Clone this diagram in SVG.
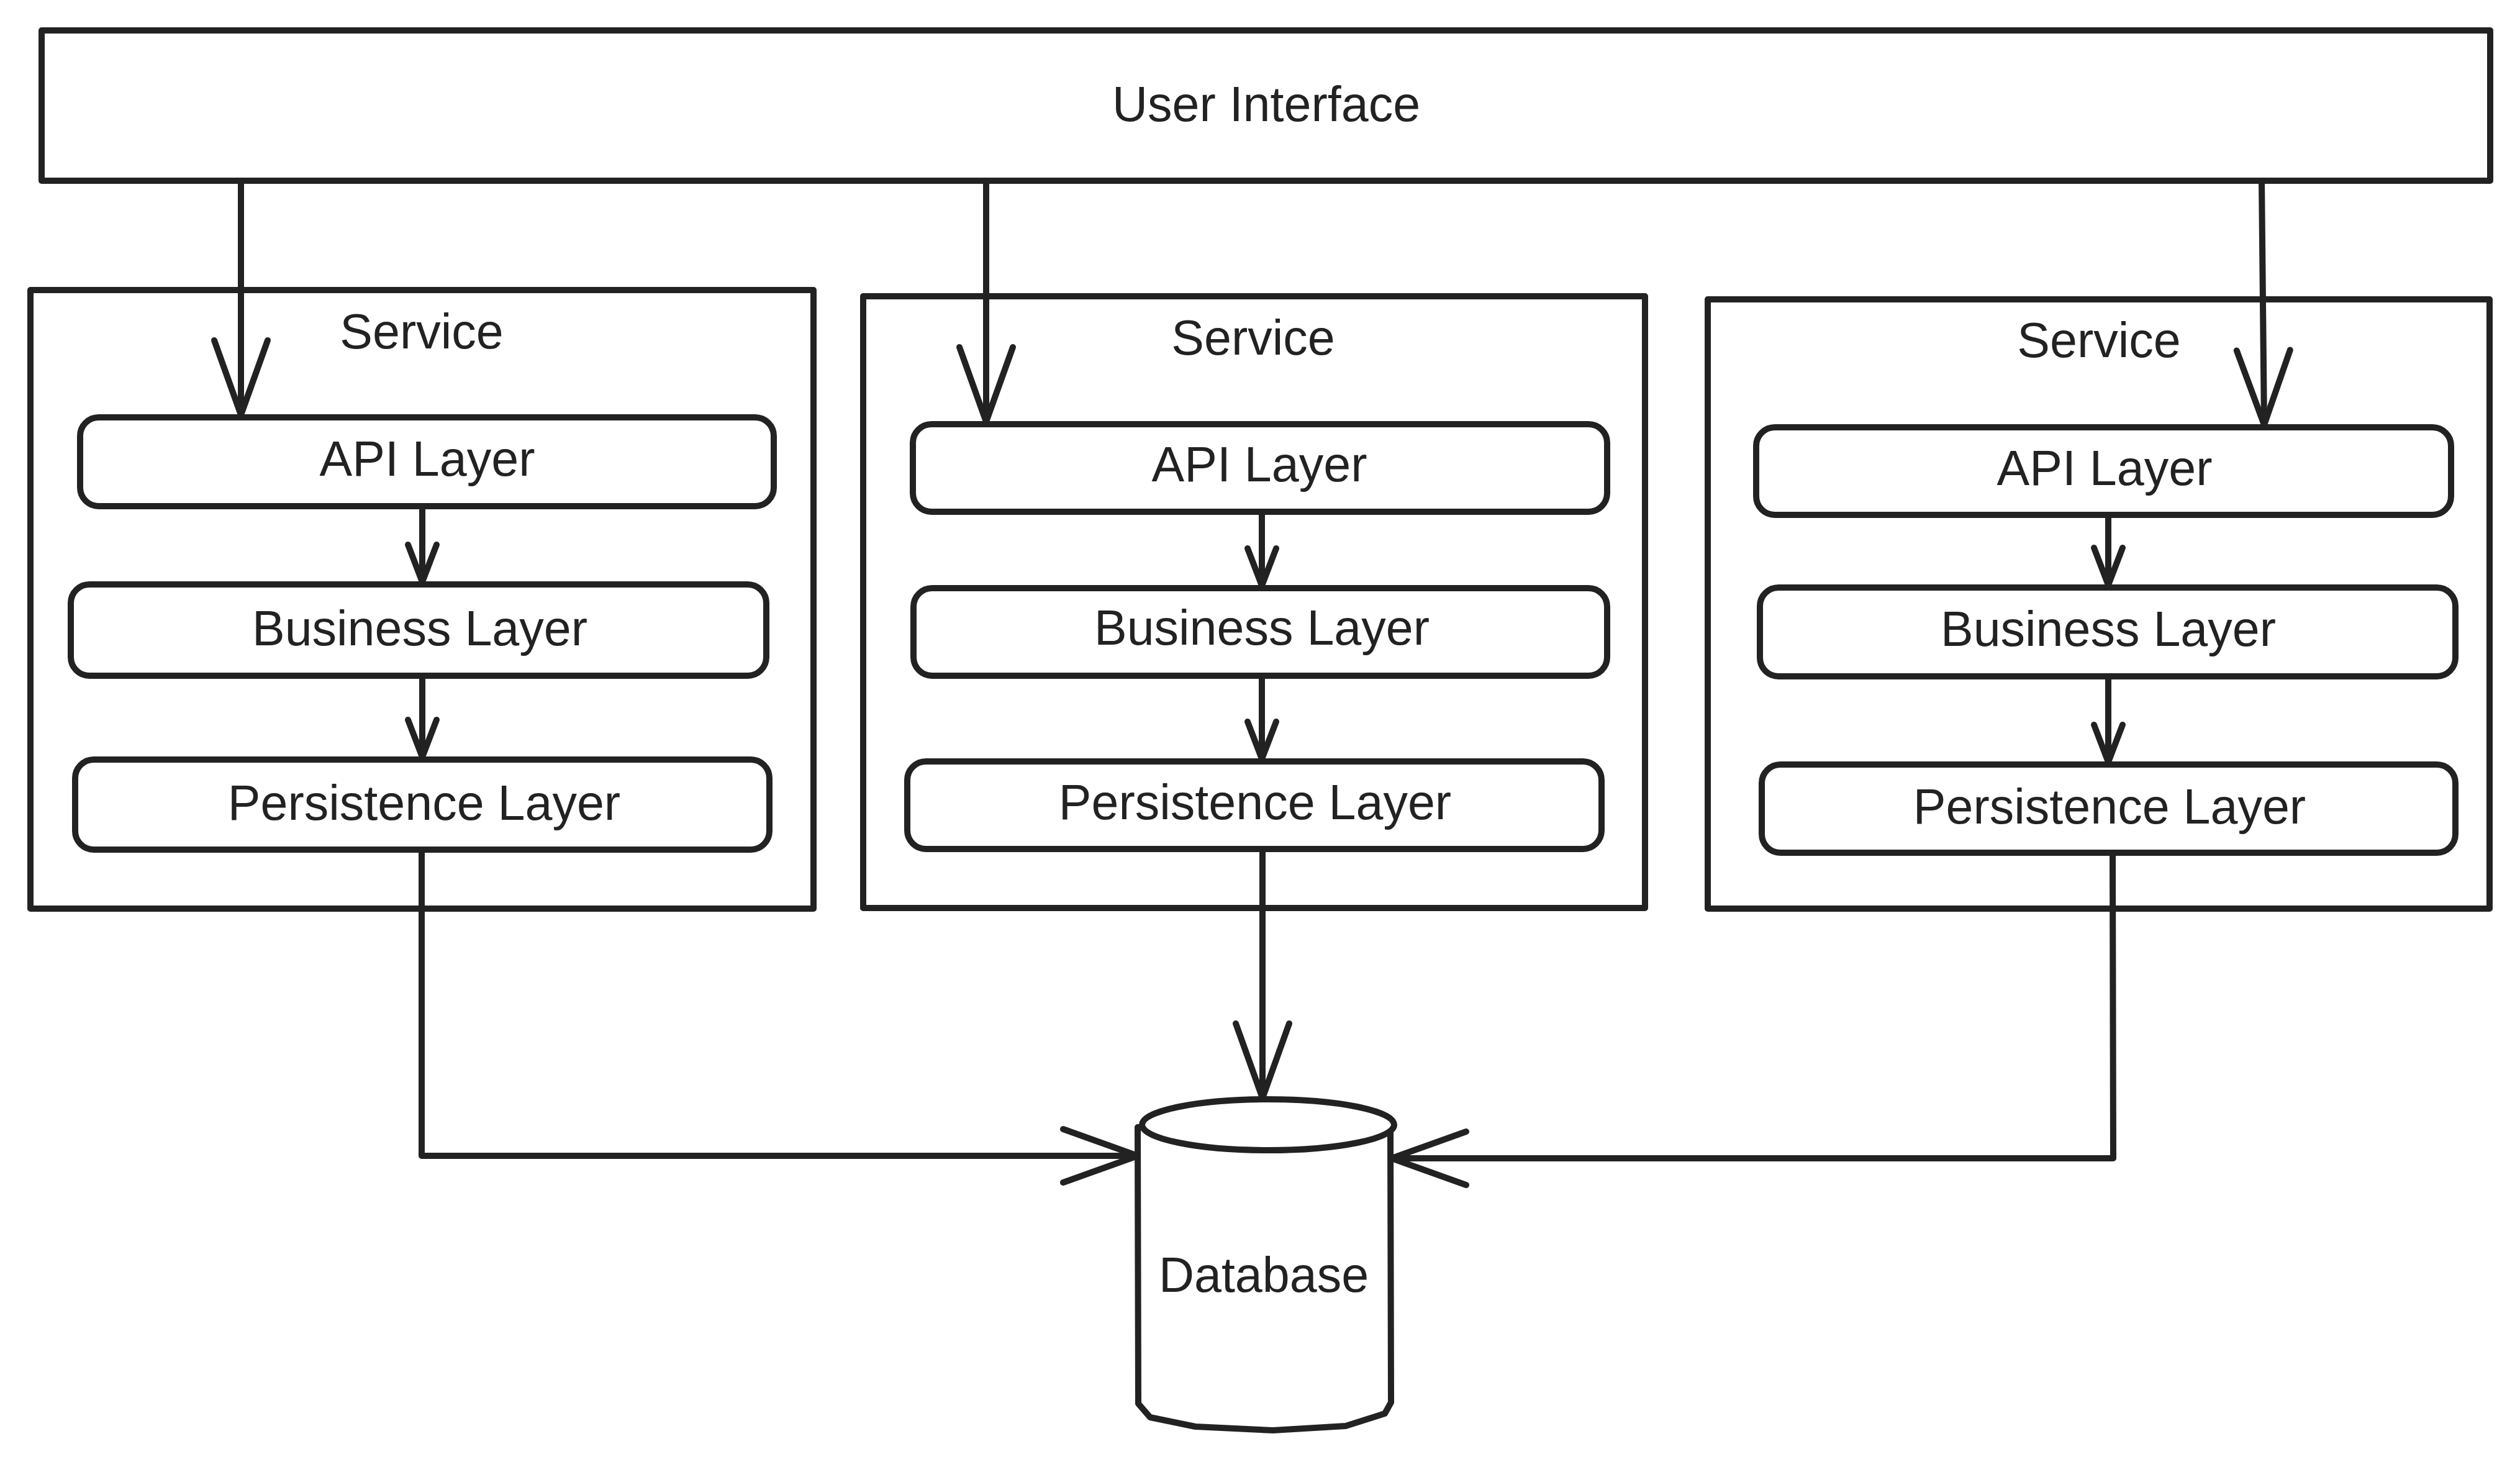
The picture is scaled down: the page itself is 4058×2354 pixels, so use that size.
<svg xmlns="http://www.w3.org/2000/svg" width="4058" height="2354" viewBox="0 0 4058 2354">
  <style>
    .box { fill: #ffffff; stroke: #222222; stroke-width: 10; stroke-linejoin: round; }
    .layer { fill: #ffffff; stroke: #222222; stroke-width: 10; }
    .label { font-family: "Liberation Sans", Arial, sans-serif; font-size: 79px; fill: #222222; text-anchor: middle; }
    .wire { fill: none; stroke: #222222; stroke-width: 10; stroke-linejoin: round; }
  </style>
  <defs>
    <marker id="headBig" markerUnits="userSpaceOnUse" orient="auto" overflow="visible" markerWidth="1" markerHeight="1" refX="0" refY="0">
      <path d="M-120,-43 L0,0 L-120,43" fill="none" stroke="#222222" stroke-width="10" stroke-linecap="round" stroke-linejoin="round"/>
    </marker>
    <marker id="headSmall" markerUnits="userSpaceOnUse" orient="auto" overflow="visible" markerWidth="1" markerHeight="1" refX="0" refY="0">
      <path d="M-60,-23 L0,0 L-60,23" fill="none" stroke="#222222" stroke-width="10" stroke-linecap="round" stroke-linejoin="round"/>
    </marker>
  </defs>

  <rect width="4058" height="2354" fill="#ffffff"/>

  <!-- top tier -->
  <g id="user-interface">
    <rect class="box" x="67" y="49" width="3943" height="242"/>
    <text class="label" x="2039" y="195">User Interface</text>
  </g>

  <!-- service 1 -->
  <g id="service-1">
    <rect class="box" x="49" y="467" width="1261" height="996"/>
    <text class="label" x="679" y="561">Service</text>
  </g>
  <g id="service-1-api">
    <rect class="layer" x="129" y="672" width="1117" height="143" rx="30"/>
    <text class="label" x="688" y="766">API Layer</text>
  </g>
  <g id="service-1-business">
    <rect class="layer" x="114" y="941" width="1120" height="147" rx="30"/>
    <text class="label" x="676" y="1039">Business Layer</text>
  </g>
  <g id="service-1-persistence">
    <rect class="layer" x="121" y="1223" width="1118" height="145" rx="30"/>
    <text class="label" x="683" y="1320">Persistence Layer</text>
  </g>

  <!-- service 2 -->
  <g id="service-2">
    <rect class="box" x="1390" y="477" width="1259" height="985"/>
    <text class="label" x="2018" y="571">Service</text>
  </g>
  <g id="service-2-api">
    <rect class="layer" x="1470" y="683" width="1118" height="141" rx="30"/>
    <text class="label" x="2028" y="775">API Layer</text>
  </g>
  <g id="service-2-business">
    <rect class="layer" x="1471" y="947" width="1117" height="141" rx="30"/>
    <text class="label" x="2032" y="1038">Business Layer</text>
  </g>
  <g id="service-2-persistence">
    <rect class="layer" x="1461" y="1226" width="1118" height="141" rx="30"/>
    <text class="label" x="2021" y="1319">Persistence Layer</text>
  </g>

  <!-- service 3 -->
  <g id="service-3">
    <rect class="box" x="2750" y="482" width="1259" height="981"/>
    <text class="label" x="3380" y="575">Service</text>
  </g>
  <g id="service-3-api">
    <rect class="layer" x="2828" y="688" width="1119" height="141" rx="30"/>
    <text class="label" x="3389" y="781">API Layer</text>
  </g>
  <g id="service-3-business">
    <rect class="layer" x="2834" y="946" width="1120" height="143" rx="30"/>
    <text class="label" x="3395" y="1040">Business Layer</text>
  </g>
  <g id="service-3-persistence">
    <rect class="layer" x="2837" y="1231" width="1117" height="142" rx="30"/>
    <text class="label" x="3397" y="1326">Persistence Layer</text>
  </g>

  <!-- shared store -->
  <g id="database">
    <path class="box" d="M1832,1815 L1833,2260 L1852,2282 L1925,2297 L2050,2303 L2167,2296 L2230,2276 L2240,2258 L2239,1822 Z"/>
    <ellipse class="box" cx="2042" cy="1811" rx="203" ry="41"/>
    <text class="label" x="2035" y="2080">Database</text>
  </g>

  <!-- connectors -->
  <g id="connectors">
    <path class="wire" d="M388,291 L388,668" marker-end="url(#headBig)"/>
    <path class="wire" d="M1588,291 L1588,679" marker-end="url(#headBig)"/>
    <path class="wire" d="M3642,291 L3646,684" marker-end="url(#headBig)"/>

    <path class="wire" d="M680,815 L680,937" marker-end="url(#headSmall)"/>
    <path class="wire" d="M680,1088 L680,1219" marker-end="url(#headSmall)"/>
    <path class="wire" d="M2032,824 L2032,943" marker-end="url(#headSmall)"/>
    <path class="wire" d="M2032,1088 L2032,1222" marker-end="url(#headSmall)"/>
    <path class="wire" d="M3395,829 L3395,942" marker-end="url(#headSmall)"/>
    <path class="wire" d="M3395,1089 L3395,1227" marker-end="url(#headSmall)"/>

    <path class="wire" d="M679,1368 L679,1861 L1832,1861" marker-end="url(#headBig)"/>
    <path class="wire" d="M2033,1367 L2033,1768" marker-end="url(#headBig)"/>
    <path class="wire" d="M3402,1373 L3403,1865 L2241,1865" marker-end="url(#headBig)"/>
  </g>
</svg>
